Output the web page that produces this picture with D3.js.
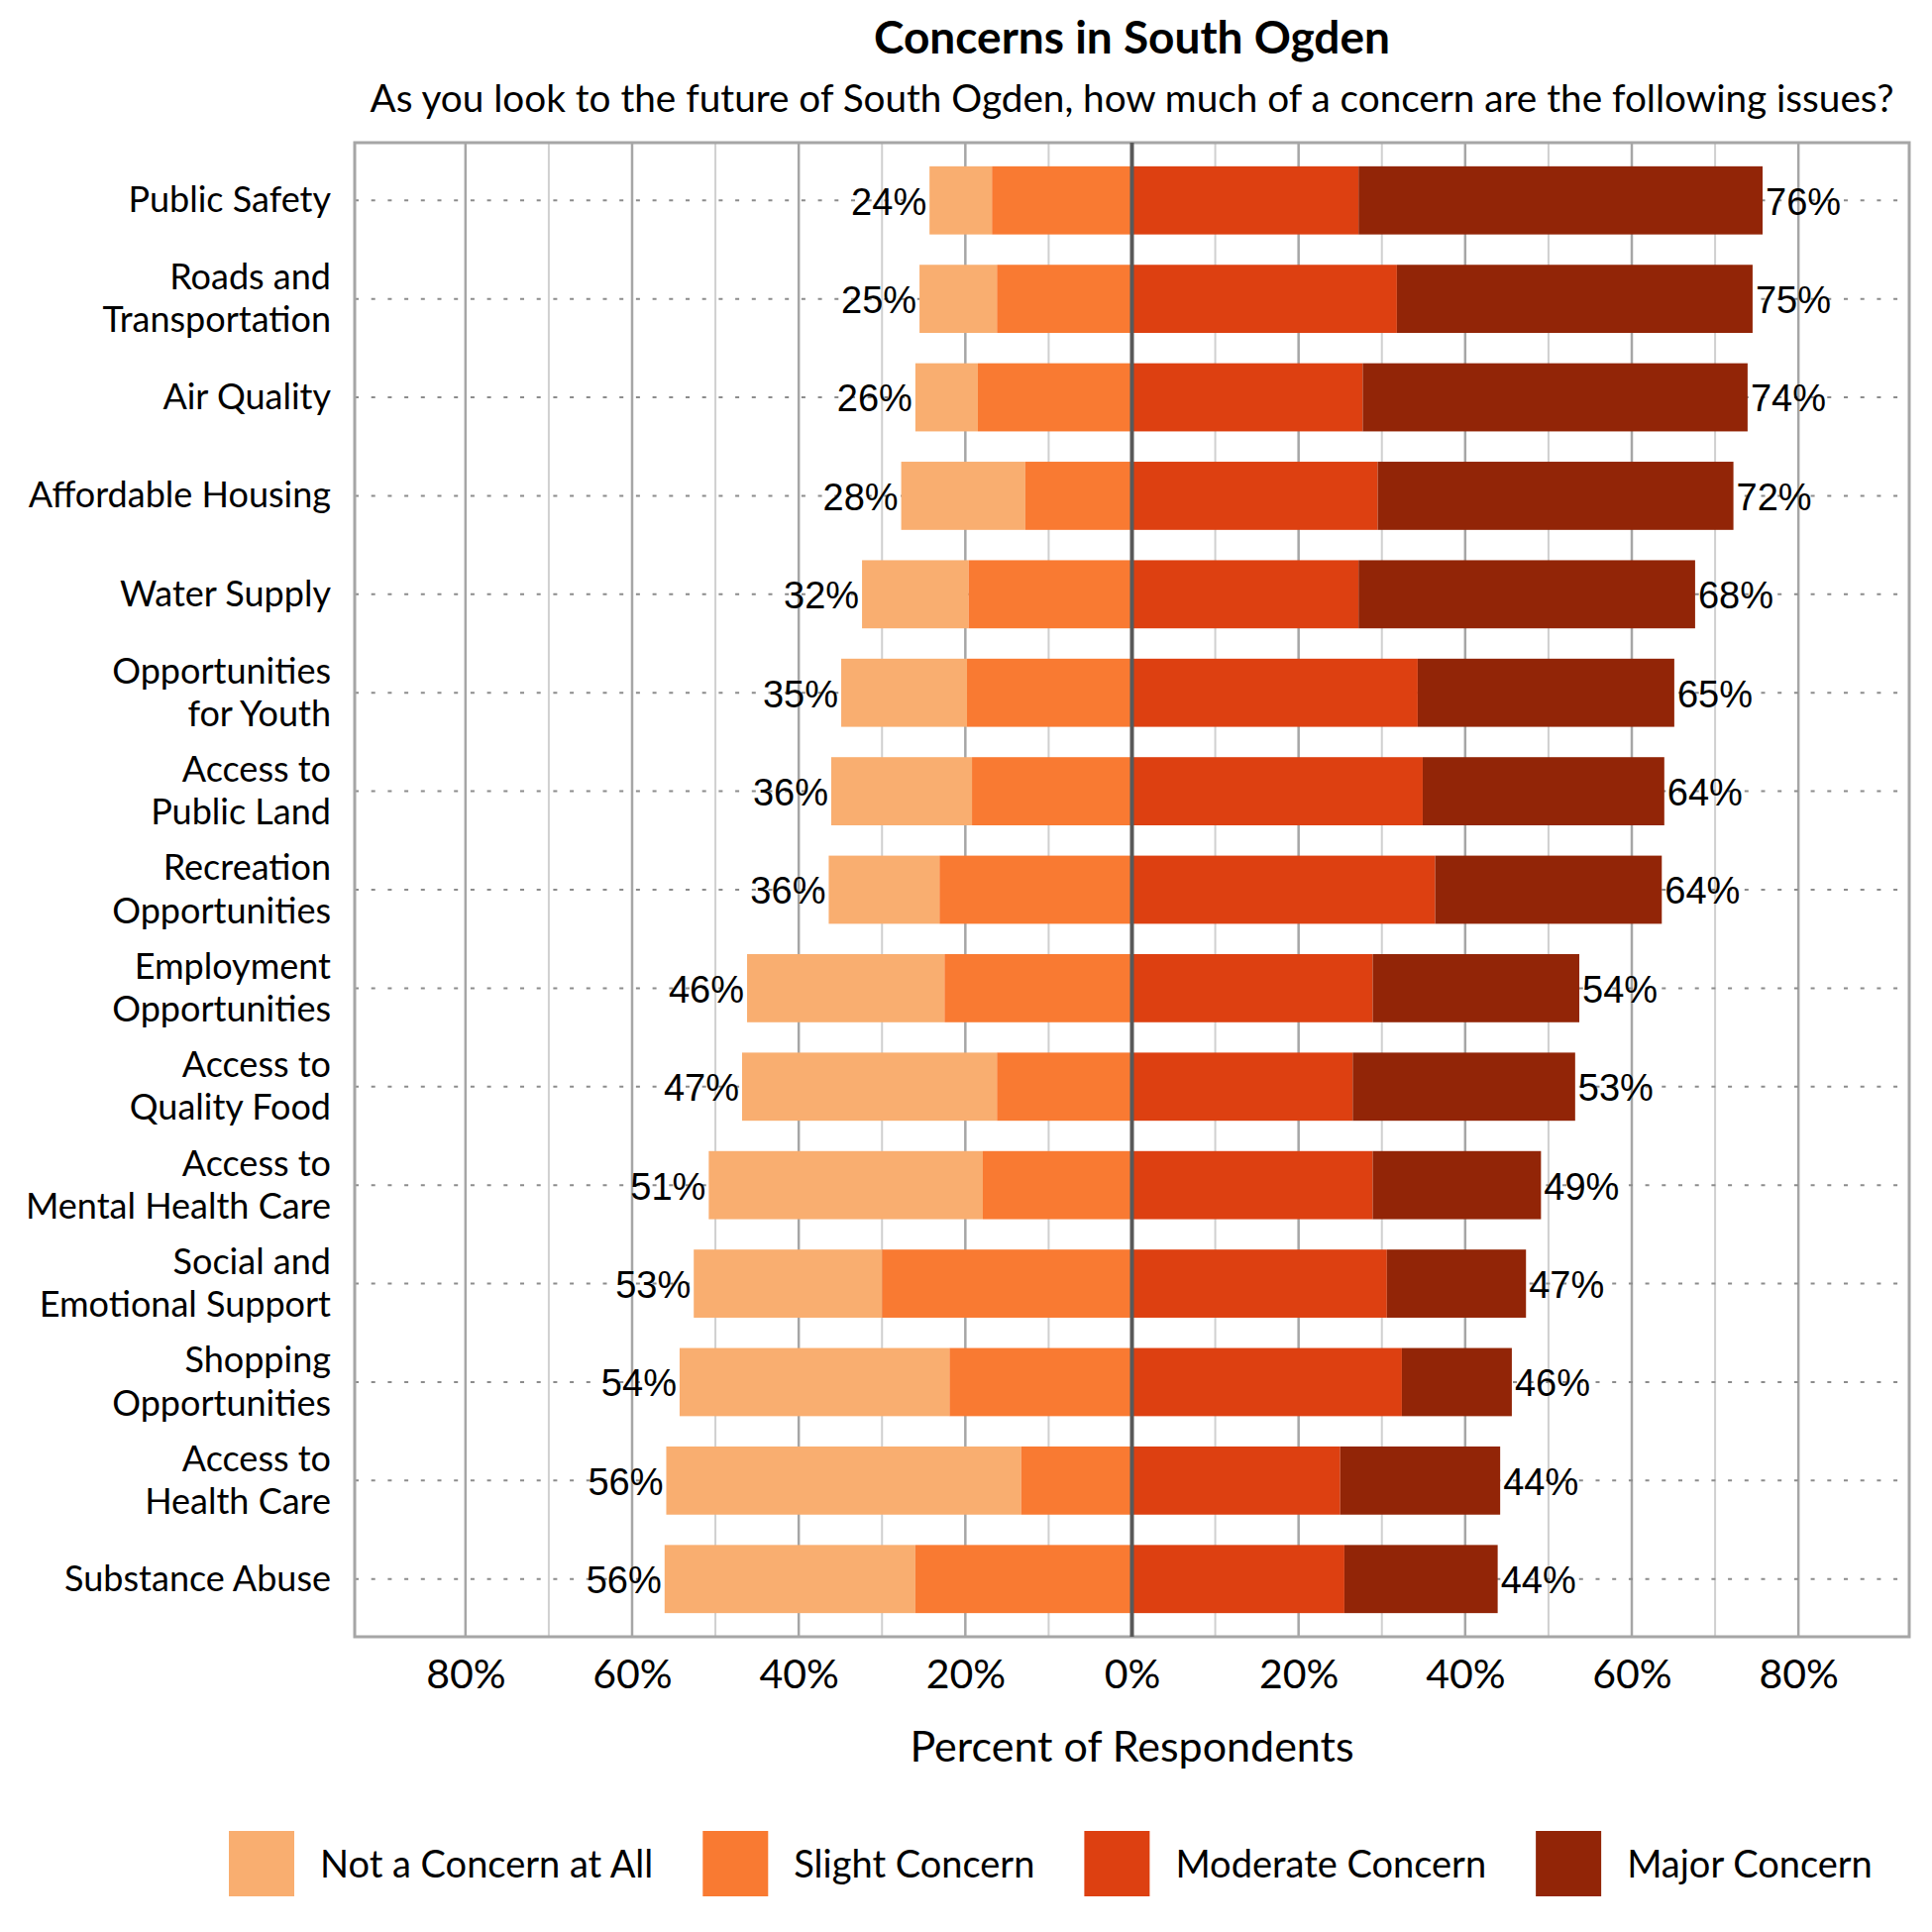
<!DOCTYPE html>
<html>
<head>
<meta charset="utf-8">
<script src="https://cdn.jsdelivr.net/npm/d3@7"></script>
<style>
  body { margin: 0; background: #fff; }
  text { font-family: Lato, "Open Sans", sans-serif; fill: #000; }
  .val { font-family: "Liberation Sans", Arial, sans-serif; }
</style>
</head>
<body>
<svg id="chart" width="1950" height="1950"></svg>
<script>
// data (percent of respondents)
const categories = [
  "Public Safety", "Roads and\nTransportation", "Air Quality", "Affordable Housing",
  "Water Supply", "Opportunities\nfor Youth", "Access to\nPublic Land",
  "Recreation\nOpportunities", "Employment\nOpportunities", "Access to\nQuality Food",
  "Access to\nMental Health Care", "Social and\nEmotional Support",
  "Shopping\nOpportunities", "Access to\nHealth Care", "Substance Abuse"
];
const notConcern      = [7.5, 9.3, 7.5, 14.9, 12.8, 15.1, 16.9, 13.3, 23.7, 30.6, 32.9, 22.6, 32.4, 42.6, 30.1];
const slightConcern   = [16.8, 16.2, 18.5, 12.8, 19.6, 19.8, 19.2, 23.1, 22.5, 16.2, 17.9, 30.0, 21.9, 13.3, 26.0];
const moderateConcern = [27.2, 31.8, 27.7, 29.5, 27.2, 34.3, 34.9, 36.4, 28.9, 26.5, 28.9, 30.6, 32.4, 25.0, 25.5];
const majorConcern    = [48.5, 42.7, 46.2, 42.7, 40.4, 30.8, 29.0, 27.2, 24.8, 26.7, 20.2, 16.7, 13.2, 19.2, 18.4];
const leftLabels  = ["24%", "25%", "26%", "28%", "32%", "35%", "36%", "36%", "46%", "47%", "51%", "53%", "54%", "56%", "56%"];
const rightLabels = ["76%", "75%", "74%", "72%", "68%", "65%", "64%", "64%", "54%", "53%", "49%", "47%", "46%", "44%", "44%"];
const seriesNames = ["Not a Concern at All", "Slight Concern", "Moderate Concern", "Major Concern"];
const seriesColors = ["#f9ae70", "#f97a32", "#dd4011", "#922507"];
const majorTicks = [-80, -60, -40, -20, 0, 20, 40, 60, 80];
const minorTicks = [-70, -50, -30, -10, 10, 30, 50, 70];

const svg = d3.select("#chart");
const plotLeft = 358, plotRight = 1927, plotTop = 144, plotBottom = 1652;

const x = d3.scaleLinear().domain([-93.3, 93.3]).range([plotLeft, plotRight]);
const y = d3.scaleBand().domain(categories).range([plotTop, plotBottom])
  .paddingInner(0.308).paddingOuter(0.24);

// stack: left side goes outward from zero
const rows = categories.map((c, i) => {
  const segs = [
    { s: 0, x0: -(slightConcern[i] + notConcern[i]), x1: -slightConcern[i] },
    { s: 1, x0: -slightConcern[i], x1: 0 },
    { s: 2, x0: 0, x1: moderateConcern[i] },
    { s: 3, x0: moderateConcern[i], x1: moderateConcern[i] + majorConcern[i] }
  ];
  return { cat: c, i: i, segs: segs };
});

// grid
const grid = svg.append("g");
grid.selectAll("line.minor").data(minorTicks).join("line")
  .attr("class", "minor")
  .attr("x1", d => x(d)).attr("x2", d => x(d))
  .attr("y1", plotTop).attr("y2", plotBottom)
  .attr("stroke", "#d0d0d0").attr("stroke-width", 2);
grid.selectAll("line.major").data(majorTicks.filter(d => d !== 0)).join("line")
  .attr("class", "major")
  .attr("x1", d => x(d)).attr("x2", d => x(d))
  .attr("y1", plotTop).attr("y2", plotBottom)
  .attr("stroke", "#a6a6a6").attr("stroke-width", 2.5);

// dotted row guides
svg.append("g").selectAll("line").data(categories).join("line")
  .attr("x1", plotLeft).attr("x2", plotRight)
  .attr("y1", d => y(d) + y.bandwidth() / 2)
  .attr("y2", d => y(d) + y.bandwidth() / 2)
  .attr("stroke", "#8c8c8c").attr("stroke-width", 2)
  .attr("stroke-dasharray", "4 12.7");

// frame
svg.append("rect")
  .attr("x", plotLeft).attr("y", plotTop)
  .attr("width", plotRight - plotLeft).attr("height", plotBottom - plotTop)
  .attr("fill", "none").attr("stroke", "#a6a6a6").attr("stroke-width", 3);

// bars
const barG = svg.append("g").selectAll("g").data(rows).join("g")
  .attr("transform", d => `translate(0,${y(d.cat)})`);
barG.selectAll("rect").data(d => d.segs).join("rect")
  .attr("x", d => x(d.x0))
  .attr("width", d => x(d.x1) - x(d.x0))
  .attr("height", y.bandwidth())
  .attr("fill", d => seriesColors[d.s]);

// zero line
svg.append("line")
  .attr("x1", x(0)).attr("x2", x(0))
  .attr("y1", plotTop).attr("y2", plotBottom)
  .attr("stroke", "#595959").attr("stroke-width", 4);

// value labels
barG.append("text").attr("class", "val")
  .attr("x", d => x(d.segs[0].x0) - 3)
  .attr("y", y.bandwidth() / 2)
  .attr("dy", "0.38em")
  .attr("text-anchor", "end")
  .attr("font-size", 38)
  .text(d => leftLabels[d.i]);
barG.append("text").attr("class", "val")
  .attr("x", d => x(d.segs[3].x1) + 3)
  .attr("y", y.bandwidth() / 2)
  .attr("dy", "0.38em")
  .attr("font-size", 38)
  .text(d => rightLabels[d.i]);

// category labels
const catG = svg.append("g").selectAll("text").data(categories).join("text")
  .attr("text-anchor", "end")
  .attr("font-size", 36)
  .attr("y", d => y(d) + y.bandwidth() / 2);
catG.each(function(d) {
  const lines = d.split("\n");
  const t = d3.select(this);
  lines.forEach((ln, k) => {
    t.append("tspan")
      .attr("x", 334)
      .attr("dy", k === 0 ? (12 - (lines.length - 1) * 21.6) : 43.3)
      .text(ln);
  });
});

// x axis
const xAxis = d3.axisBottom(x)
  .tickValues(majorTicks)
  .tickSize(0)
  .tickPadding(0)
  .tickFormat(d => Math.abs(d) + "%");
const ax = svg.append("g").attr("transform", `translate(0,${plotBottom})`).call(xAxis);
ax.select(".domain").remove();
ax.selectAll("text")
  .attr("font-size", 41)
  .attr("font-family", "Lato, sans-serif")
  .attr("fill", "#000")
  .attr("y", 52)
  .attr("dy", 0);

svg.append("text")
  .attr("x", (plotLeft + plotRight) / 2).attr("y", 1778)
  .attr("text-anchor", "middle")
  .attr("font-size", 43)
  .text("Percent of Respondents");

// title
svg.append("text")
  .attr("x", (plotLeft + plotRight) / 2).attr("y", 54)
  .attr("text-anchor", "middle")
  .attr("font-size", 46).attr("font-weight", "bold")
  .text("Concerns in South Ogden");
svg.append("text")
  .attr("x", (plotLeft + plotRight) / 2).attr("y", 113)
  .attr("text-anchor", "middle")
  .attr("font-size", 38.7)
  .text("As you look to the future of South Ogden, how much of a concern are the following issues?");

// legend
const legend = svg.append("g");
let lx = 231;
seriesNames.forEach((name, i) => {
  legend.append("rect")
    .attr("x", lx).attr("y", 1848)
    .attr("width", 66).attr("height", 66)
    .attr("fill", seriesColors[i]);
  const t = legend.append("text")
    .attr("x", lx + 92).attr("y", 1895)
    .attr("font-size", 38)
    .text(name);
  lx = lx + 92 + t.node().getComputedTextLength() + 50;
});
</script>
</body>
</html>
